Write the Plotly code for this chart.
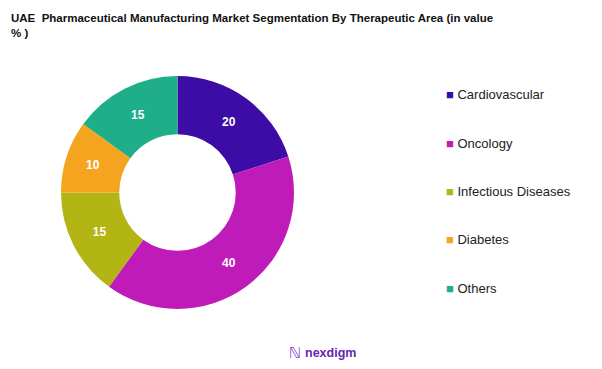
import plotly.graph_objects as go

categories = ["Cardiovascular", "Oncology", "Infectious Diseases", "Diabetes", "Others"]
values = [20, 40, 15, 10, 15]
colors = ["#3d0ba6", "#bf1bb8", "#b3b515", "#f4a41f", "#1fae8a"]

W, H = 602, 369
fig = go.Figure()
fig.add_trace(go.Pie(
    labels=categories, values=values, hole=0.5, sort=False, direction="clockwise",
    rotation=0, marker=dict(colors=colors, line=dict(width=0)),
    textinfo="value", textposition="inside", insidetextorientation="horizontal",
    textfont=dict(family="Liberation Sans", size=12, color="white", weight="bold"),
    showlegend=False, hoverinfo="label+value",
    domain=dict(x=[61 / W, 294 / W], y=[1 - 309 / H, 1 - 76 / H]),
))

# custom legend built from the category list
leg_x, leg_y0, leg_dy = 444, 95, 48.3
for i, (c, col) in enumerate(zip(categories, colors)):
    fig.add_annotation(
        text=f"<span style='color:{col}'>■</span> {c}",
        x=leg_x / W, y=1 - (leg_y0 + i * leg_dy) / H, xref="paper", yref="paper",
        xanchor="left", yanchor="middle", showarrow=False,
        font=dict(family="Liberation Sans", size=13, color="#222222"))

fig.add_annotation(text="<b>UAE  Pharmaceutical Manufacturing Market Segmentation By Therapeutic Area (in value<br>% )</b>",
                   x=9 / W, y=1 - 10 / H, xref="paper", yref="paper", xanchor="left", yanchor="top",
                   align="left", showarrow=False,
                   font=dict(family="Liberation Sans", size=11.5, color="#111111"))
fig.add_annotation(text="<i>ℕ</i>", x=295 / W, y=1 - 353 / H, xref="paper", yref="paper",
                   xanchor="center", yanchor="middle",
                   showarrow=False, font=dict(family="DejaVu Sans", size=15, color="#8a3fd0"))
fig.add_annotation(text="nexdigm", x=303 / W, y=1 - 353 / H, xref="paper", yref="paper",
                   xanchor="left", yanchor="middle", showarrow=False,
                   font=dict(family="Liberation Sans", size=12.5, color="#6a1fb0", weight=600))

fig.update_layout(
    width=W, height=H, margin=dict(l=0, r=0, t=0, b=0),
    paper_bgcolor="white", plot_bgcolor="white",
)
fig.write_html("out.html", config={"displayModeBar": False},
               post_script="document.body.style.margin='0';")
